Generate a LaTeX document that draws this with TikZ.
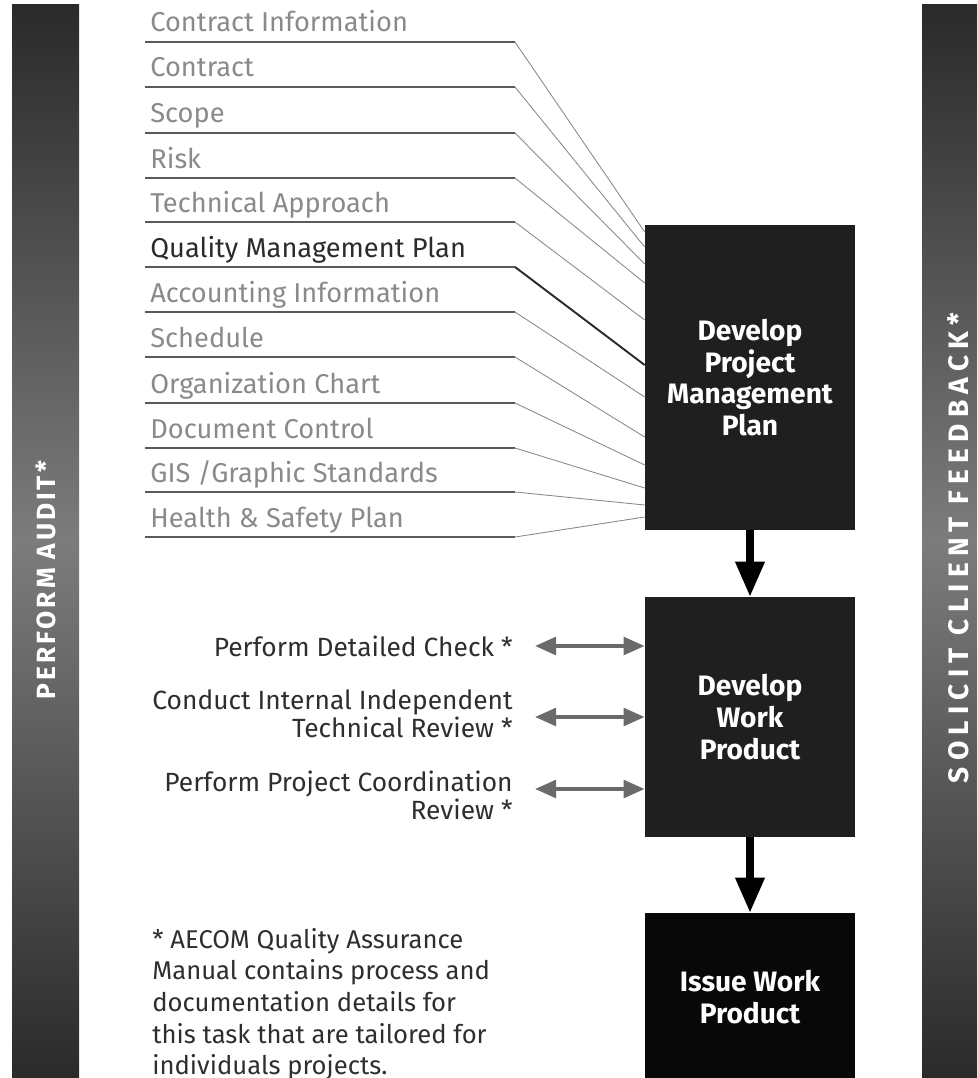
\documentclass[tikz,border=0pt]{standalone}
\usepackage{fontspec}
\setmainfont{Fira Sans}
\usetikzlibrary{arrows.meta, positioning, calc}
\definecolor{qbox}{HTML}{1F1F1F}
\definecolor{qblack}{HTML}{080808}
\definecolor{qbar}{HTML}{2A2A2A}
\definecolor{qbarmid}{HTML}{7C7C7C}
\definecolor{qfade}{HTML}{8A8A8A}
\definecolor{qstrong}{HTML}{2B2B2B}
\definecolor{qrule}{HTML}{5A5A5A}
\definecolor{qgray}{HTML}{6A6A6A}
\definecolor{qtext}{HTML}{2E2E2E}
\tikzset{
  procbox/.style={fill=qbox, text=white, align=center, inner sep=0pt,
                  minimum width=4.2cm, font=\fontsize{16}{18}\selectfont\bfseries},
  sidebar/.style={top color=qbar, bottom color=qbar, middle color=qbarmid},
  bartext/.style={text=white, rotate=90, inner sep=0pt},
  itemtxt/.style={anchor=base west, inner sep=0pt, font=\fontsize{15.5}{18}\selectfont},
  checktxt/.style={anchor=east, align=right, inner sep=0pt, text=qtext,
                   font=\fontsize{15}{14.7}\selectfont},
  underline/.style={qrule, line width=0.8pt},
  flow/.style={-{Triangle[width=16pt,length=20pt]}, line width=4pt, black},
  twoway/.style={{Triangle[width=10pt,length=12pt]}-{Triangle[width=10pt,length=12pt]},
                 line width=2.2pt, qgray},
}
\begin{document}
\begin{tikzpicture}[x=0.02cm, y=-0.02cm]
  \useasboundingbox (0,0) rectangle (977,1078);

  % Side bars
  \shade[sidebar] (12,5) rectangle (79,1078);
  \shade[sidebar] (922,5) rectangle (977,1078);
  \node[bartext, font=\fontsize{15}{16}\selectfont\bfseries\addfontfeatures{LetterSpace=11}]
    (audit) at (46,580) {PERFORM AUDIT*};
  \node[bartext, font=\fontsize{16}{16}\selectfont\bfseries\addfontfeatures{LetterSpace=22}]
    (feedback) at (958,548) {SOLICIT CLIENT FEEDBACK*};

  % Process boxes
  \node[procbox, minimum height=6.1cm] (pmp) at (750,377.5)
    {Develop\\Project\\Management\\Plan};
  \node[procbox, minimum height=4.8cm] (wp) at (750,717)
    {Develop\\Work\\Product};
  \node[procbox, fill=qblack, minimum height=3.36cm] (iwp) at (750,997)
    {Issue Work\\Product};
  \draw[flow] (pmp.south) -- (wp.north);
  \draw[flow] (wp.south) -- (iwp.north);

  % Plan inputs, underlined and fanned into the plan box
  \foreach \y/\e/\t/\c/\w [count=\i] in {
      42/232/Contract Information/qfade/0.5pt,
      87/247/Contract/qfade/0.5pt,
      133/264/Scope/qfade/0.5pt,
      178/283/Risk/qfade/0.5pt,
      222/320/Technical Approach/qfade/0.5pt,
      267/365/Quality Management Plan/qstrong/1.1pt,
      312/397/Accounting Information/qfade/0.5pt,
      357/437/Schedule/qfade/0.5pt,
      403/465/Organization Chart/qfade/0.5pt,
      448/488/Document Control/qfade/0.5pt,
      492/505/{GIS /Graphic Standards}/qfade/0.5pt,
      537/517/Health \& Safety Plan/qfade/0.5pt} {
    \node[itemtxt, text=\c] (it\i) at (150,\y-10) {\t};
    \coordinate (k\i) at (515,\y);
    \draw[underline] (it\i.base west) ++(-5,10) -- (k\i);
    \draw[draw=\c, line width=\w] (k\i) -- (pmp.west |- 0,\e);
  }

  % Checks and reviews on the work product
  \node[checktxt] (ck1) at (513,646) {Perform Detailed Check *};
  \node[checktxt] (ck2) at (513,714) {Conduct Internal Independent\\Technical Review *};
  \node[checktxt] (ck3) at (513,795) {Perform Project Coordination\\Review *};
  \coordinate (a1) at (535,646);
  \coordinate (a2) at (535,717);
  \coordinate (a3) at (535,789);
  \foreach \a in {a1,a2,a3}
    \draw[twoway] (\a) -- (wp.west |- \a);

  % Footnote
  \node[anchor=north west, align=left, inner sep=0pt, text=qtext,
        font=\fontsize{14.6}{18}\selectfont] (note) at (152,928)
    {* AECOM Quality Assurance\\Manual contains process and\\documentation details for\\
     this task that are tailored for\\individuals projects.};
\end{tikzpicture}
\end{document}
